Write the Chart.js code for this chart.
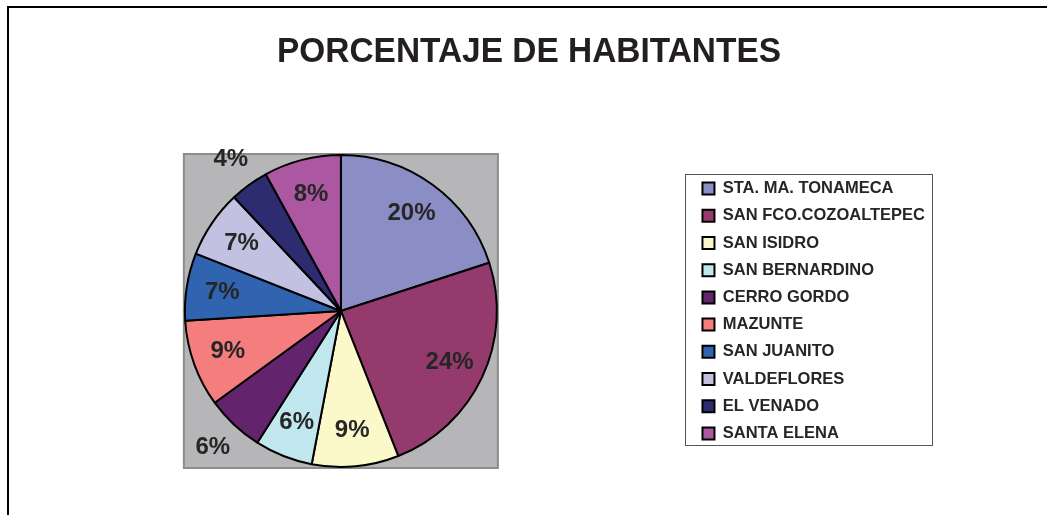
<!DOCTYPE html>
<html>
<head>
<meta charset="utf-8">
<title>Porcentaje de habitantes</title>
<script src="https://cdn.jsdelivr.net/npm/chart.js@4.4.0/dist/chart.umd.min.js"></script>
<style>
  html, body { margin: 0; padding: 0; background: #fff; }
  #wrap { position: relative; width: 1047px; height: 515px; }
</style>
</head>
<body>
<div id="wrap"><canvas id="pie-chart"></canvas></div>
<script>
var localidades = ["STA. MA. TONAMECA", "SAN FCO.COZOALTEPEC", "SAN ISIDRO", "SAN BERNARDINO",
                   "CERRO GORDO", "MAZUNTE", "SAN JUANITO", "VALDEFLORES", "EL VENADO", "SANTA ELENA"];
var porcentajes = [20, 24, 9, 6, 6, 9, 7, 7, 4, 8];
var colores = ["#8b8dc5", "#943a6c", "#fbf8c9", "#c1e7ee", "#64236d",
               "#f47e7e", "#3063b0", "#c3c1e2", "#2e2c70", "#ab57a1"];
var titulo = 'PORCENTAJE DE HABITANTES';

var fuente = "'Liberation Sans', Arial, sans-serif";

// marco exterior (solo lados izquierdo y superior se ven)
var marco = {
  id: 'marco',
  beforeDraw: function (chart) {
    var ctx = chart.ctx;
    ctx.save();
    ctx.strokeStyle = '#000';
    ctx.lineWidth = 2;
    ctx.strokeRect(8, 7, chart.width + 20, chart.height + 20);
    ctx.restore();
  }
};

// mueve la leyenda un poco a la derecha sin tocar el area del pastel
var ajusteLeyenda = {
  id: 'ajusteLeyenda',
  afterLayout: function (chart, args, opts) {
    var lg = chart.legend;
    lg.left += opts.dx;
    lg.right += opts.dx;
  }
};

// titulo angosto (tipo Calibri), comprimido a lo ancho
var encabezado = {
  id: 'encabezado',
  afterDraw: function (chart, args, opts) {
    var ctx = chart.ctx;
    ctx.save();
    ctx.font = 'bold 35px ' + fuente;
    ctx.fillStyle = '#231f20';
    ctx.textAlign = 'center';
    ctx.textBaseline = 'alphabetic';
    var w = ctx.measureText(opts.text).width;
    ctx.translate(529, 62);
    ctx.scale(opts.width / w, 1);
    ctx.fillText(opts.text, 0, 0);
    ctx.restore();
  }
};

// fondo gris cuadrado detras del pastel
var fondo = {
  id: 'fondo',
  beforeDatasetsDraw: function (chart) {
    var arc = chart.getDatasetMeta(0).data[0];
    if (!arc) return;
    var r = arc.outerRadius + 1;
    var ctx = chart.ctx;
    ctx.save();
    ctx.fillStyle = '#b6b6b9';
    ctx.fillRect(arc.x - r, arc.y - r, 2 * r, 2 * r);
    ctx.strokeStyle = '#8c8c8c';
    ctx.lineWidth = 2;
    ctx.strokeRect(arc.x - r, arc.y - r, 2 * r, 2 * r);
    ctx.restore();
  }
};

// etiquetas de porcentaje
var etiquetas = {
  id: 'etiquetas',
  afterDatasetsDraw: function (chart, args, opts) {
    var ctx = chart.ctx;
    var data = chart.data.datasets[0].data;
    ctx.save();
    ctx.font = 'bold 24px ' + fuente;
    ctx.fillStyle = '#262626';
    ctx.textAlign = 'center';
    ctx.textBaseline = 'middle';
    chart.getDatasetMeta(0).data.forEach(function (arc, i) {
      var mid = (arc.startAngle + arc.endAngle) / 2;
      var f = opts.fuera.indexOf(i) >= 0 ? 1.2 : 0.77;
      var x = arc.x + Math.cos(mid) * arc.outerRadius * f;
      var y = arc.y + Math.sin(mid) * arc.outerRadius * f;
      ctx.fillText(data[i] + '%', x, y);
    });
    ctx.restore();
  }
};

// recuadro de la leyenda
var recuadro = {
  id: 'recuadro',
  afterDraw: function (chart) {
    var cajas = chart.legend.legendHitBoxes;
    if (!cajas || !cajas.length) return;
    var primera = cajas[0], ultima = cajas[cajas.length - 1];
    var x0 = Math.round(primera.left - 17), y0 = Math.round(primera.top - 6);
    var ctx = chart.ctx;
    ctx.save();
    ctx.strokeStyle = '#555';
    ctx.lineWidth = 1;
    ctx.strokeRect(x0 + 0.5, y0 + 0.5, 247, Math.round(ultima.top + 20 - y0));
    ctx.restore();
  }
};

new Chart(document.getElementById("pie-chart"), {
  type: 'pie',
  data: {
    labels: localidades,
    datasets: [{
      data: porcentajes,
      backgroundColor: colores,
      borderColor: '#000',
      borderWidth: 2
    }]
  },
  options: {
    responsive: true,
    maintainAspectRatio: false,
    animation: false,
    layout: {
      padding: { left: 0, right: 122, top: 154, bottom: 47 }
    },
    plugins: {
      title: { display: false },
      legend: {
        display: true,
        position: 'right',
        labels: {
          color: '#262626',
          font: { family: fuente, size: 16.5, weight: 'bold' },
          boxWidth: 12,
          boxHeight: 12,
          padding: 10.7
        }
      },
      tooltip: { enabled: false },
      etiquetas: { fuera: [4, 8] },
      encabezado: { text: titulo, width: 504 },
      ajusteLeyenda: { dx: 10 }
    }
  },
  plugins: [marco, ajusteLeyenda, encabezado, fondo, etiquetas, recuadro]
});
</script>
</body>
</html>
